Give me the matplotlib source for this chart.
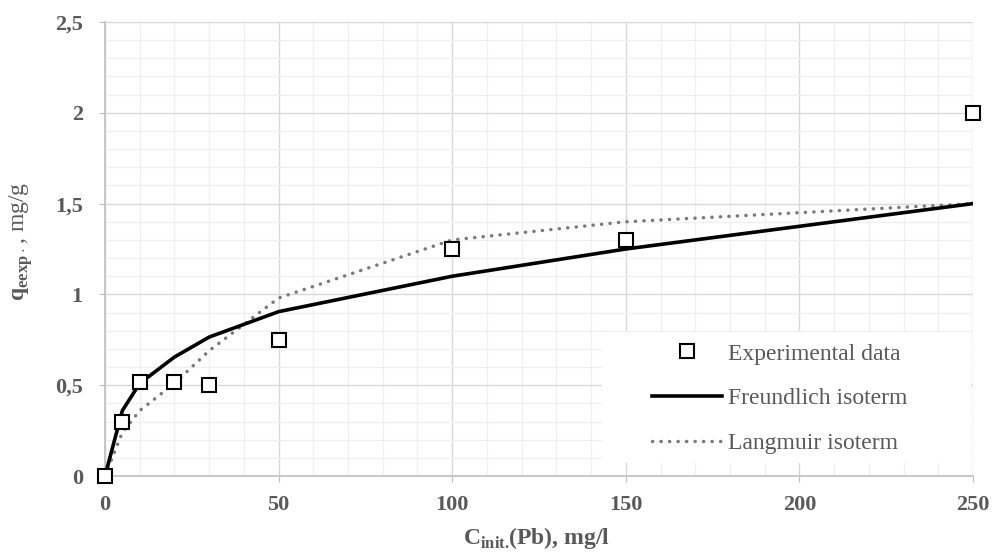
import matplotlib
matplotlib.use("Agg")
import matplotlib.pyplot as plt
from matplotlib.patches import Rectangle
from matplotlib.ticker import FuncFormatter, MultipleLocator

# values
c_init = [0, 5, 10, 20, 30, 50, 100, 150, 250]
q_exp = [0, 0.30, 0.52, 0.52, 0.50, 0.75, 1.25, 1.30, 2.00]
q_freundlich = [0, 0.36, 0.51, 0.655, 0.765, 0.905, 1.10, 1.25, 1.50]
q_langmuir = [0, 0.24, 0.36, 0.51, 0.69, 0.98, 1.30, 1.40, 1.50]

x_ticks = [0, 50, 100, 150, 200, 250]
y_ticks = [0, 0.5, 1, 1.5, 2, 2.5]

TEXT = "#595959"
plt.rcParams["font.family"] = ["Liberation Serif", "DejaVu Serif"]
plt.rcParams["mathtext.fontset"] = "custom"
plt.rcParams["mathtext.rm"] = "Liberation Serif"
plt.rcParams["mathtext.bf"] = "Liberation Serif:bold"

W, H = 992, 554
fig = plt.figure(figsize=(W / 100, H / 100), dpi=100)
ax = fig.add_axes([105 / W, 78 / H, 868 / W, 454 / H])

ax.plot(c_init, q_langmuir, color="#7a7a7a", lw=2.5, ls=(0, (0.05, 2.4)),
        dash_capstyle="round", label="Langmuir isoterm", zorder=3)
ax.plot(c_init, q_freundlich, color="black", lw=2.6, label="Freundlich isoterm", zorder=4)
ax.plot(c_init, q_exp, ls="none", marker="s", ms=10, mfc="white", mec="black",
        mew=1.5, label="Experimental data", zorder=5, clip_on=False)

ax.set_xlim(0, 250)
ax.set_ylim(0, 2.5)
ax.set_xticks(x_ticks)
ax.set_yticks(y_ticks)
ax.xaxis.set_minor_locator(MultipleLocator(10))
ax.yaxis.set_minor_locator(MultipleLocator(0.1))
ax.grid(which="major", color="#d9d9d9", lw=1.0)
ax.grid(which="minor", color="#f0f0f0", lw=1.0)
ax.set_axisbelow(True)

fmt = FuncFormatter(lambda v, _: f"{v:g}".replace(".", ","))
ax.yaxis.set_major_formatter(fmt)
ax.tick_params(which="major", length=4, color="#bfbfbf", labelcolor=TEXT,
               labelsize=16)
ax.tick_params(axis="y", which="major", pad=12)
ax.tick_params(axis="x", which="major", pad=10)
ax.tick_params(which="minor", length=0)
for lab in ax.get_xticklabels() + ax.get_yticklabels():
    lab.set_fontweight("bold")

for side in ("top", "right"):
    ax.spines[side].set_visible(False)
for side in ("left", "bottom"):
    ax.spines[side].set_color("#bfbfbf")
    ax.spines[side].set_linewidth(1.2)

fig.text(536 / W, 1 - 538 / H, r"C$_{\mathbf{init.}}\!$(Pb), mg/l", fontsize=17,
         fontweight="bold", color=TEXT, ha="center", va="center")
fig.text(21 / W, 1 - 241 / H, r"$\mathbf{q}_{\mathbf{eexp\cdot}}$, mg/g", fontsize=17,
         color=TEXT, rotation=90, ha="center", va="center")

# white panel behind the legend, covering the grid (figure pixels 602-971 x 332-463)
legend_bg = Rectangle(((602 - 105) / 868, (554 - 463 - 78) / 454), 369 / 868, 131 / 454,
                      transform=ax.transAxes, facecolor="white", edgecolor="none",
                      zorder=2.5, clip_on=False)
ax.add_patch(legend_bg)

handles, labels = ax.get_legend_handles_labels()
order = [2, 1, 0]
leg = ax.legend([handles[i] for i in order], [labels[i] for i in order],
                loc="upper left", bbox_to_anchor=(652 / W, 1 - 343 / H),
                bbox_transform=fig.transFigure, frameon=False, fontsize=17,
                handlelength=2.95, handletextpad=0.25, labelspacing=0.98,
                borderpad=0.0, borderaxespad=0.0)
for t in leg.get_texts():
    t.set_color(TEXT)

fig.savefig("out.png", dpi=100)
